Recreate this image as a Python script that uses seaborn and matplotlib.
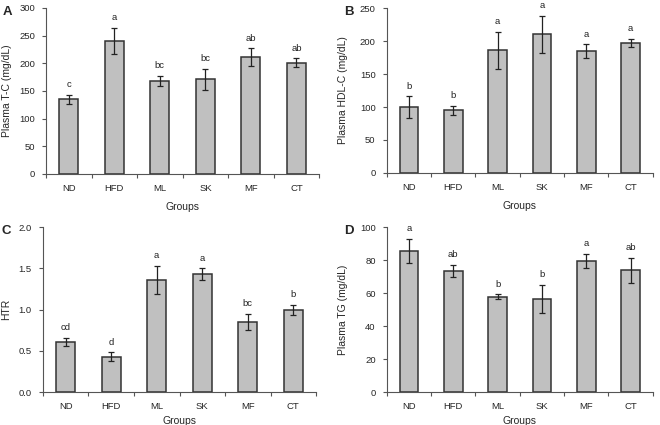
import seaborn as sns
import matplotlib.pyplot as plt
import pandas as pd
import numpy as np

groups = ["ND", "HFD", "ML", "SK", "MF", "CT"]

tc_mean = [135, 240, 168, 171, 211, 201]
tc_err = [8, 24, 9, 19, 16, 8]
tc_letters = ["c", "a", "bc", "bc", "ab", "ab"]

hdl_mean = [100, 95, 186, 210, 185, 197]
hdl_err = [16, 7, 28, 28, 10, 6]
hdl_letters = ["b", "b", "a", "a", "a", "a"]

htr_mean = [0.61, 0.43, 1.36, 1.43, 0.85, 1.00]
htr_err = [0.05, 0.05, 0.17, 0.07, 0.10, 0.06]
htr_letters = ["cd", "d", "a", "a", "bc", "b"]

tg_mean = [85.5, 73.5, 57.7, 56.5, 79.5, 73.8]
tg_err = [7.5, 3.5, 1.5, 8.5, 4.5, 7.5]
tg_letters = ["a", "ab", "b", "b", "a", "ab"]

sns.set_style("white")
plt.rcParams['font.family'] = ['Liberation Sans', 'DejaVu Sans']

fig = plt.figure(figsize=(6.6, 4.25), dpi=100)

panels = [
    # label, rect, means, errs, letters, ylabel, ymax, ystep, fmt, ylabel x, xlabel pad
    ("A", [0.0697, 0.5906, 0.414, 0.3906], tc_mean, tc_err, tc_letters, "Plasma T-C (mg/dL)", 300, 50, "{:.0f}", -0.125, 7),
    ("B", [0.586, 0.593, 0.403, 0.388], hdl_mean, hdl_err, hdl_letters, "Plasma HDL-C (mg/dL)", 250, 50, "{:.0f}", -0.145, 7),
    ("C", [0.065, 0.0776, 0.414, 0.388], htr_mean, htr_err, htr_letters, "HTR", 2.0, 0.5, "{:.1f}", -0.115, 4),
    ("D", [0.586, 0.0776, 0.403, 0.388], tg_mean, tg_err, tg_letters, "Plasma TG (mg/dL)", 100, 20, "{:.0f}", -0.145, 4),
]

for lab, rect, means, errs, letters, ylab, ymax, ystep, fmt, ylx, xpad in panels:
    ax = fig.add_axes(rect)
    df = pd.DataFrame({"Groups": groups, "val": means})
    sns.barplot(data=df, x="Groups", y="val", ax=ax, color="#c0c0c0",
                saturation=1, width=0.42, edgecolor="#333333", linewidth=1.1)
    ax.errorbar(range(len(groups)), means, yerr=errs, fmt="none",
                ecolor="#222222", elinewidth=0.9, capsize=2, capthick=0.9)
    for i in range(len(groups)):
        ax.text(i, means[i] + errs[i] + ymax * 0.035, letters[i],
                ha="center", va="bottom", fontsize=6.8, color="#222222")
    ax.set_xlim(-0.5, 5.5)
    ax.set_ylim(0, ymax)
    ticks = np.arange(0, ymax + ystep / 2, ystep)
    ax.set_yticks(ticks)
    ax.set_yticklabels([fmt.format(t) for t in ticks])
    ax.set_xticks(range(len(groups)))
    ax.set_xticks(np.arange(-0.5, 6, 1), minor=True)
    ax.tick_params(axis="x", which="major", length=0, labelsize=6.8, pad=7)
    ax.tick_params(axis="x", which="minor", length=3, direction="out", width=0.8, color="#555555")
    ax.tick_params(axis="y", length=3, direction="out", width=0.8, labelsize=6.8, color="#555555", pad=5)
    ax.yaxis.set_ticks_position("left")
    ax.xaxis.set_ticks_position("bottom")
    for s in ["top", "right"]:
        ax.spines[s].set_visible(False)
    for s in ["left", "bottom"]:
        ax.spines[s].set_color("#555555")
        ax.spines[s].set_linewidth(0.8)
    ax.set_xlabel("Groups", fontsize=7.5, labelpad=xpad)
    ax.set_ylabel(ylab, fontsize=7.5)
    ax.yaxis.set_label_coords(ylx, 0.5)
    x0 = rect[0] - 0.065
    fig.text(x0 if x0 > 0 else 0.003, rect[1] + rect[3] - 0.01, lab,
             fontsize=9.5, fontweight="bold", ha="left", va="center")

fig.savefig("out.png", dpi=100)
